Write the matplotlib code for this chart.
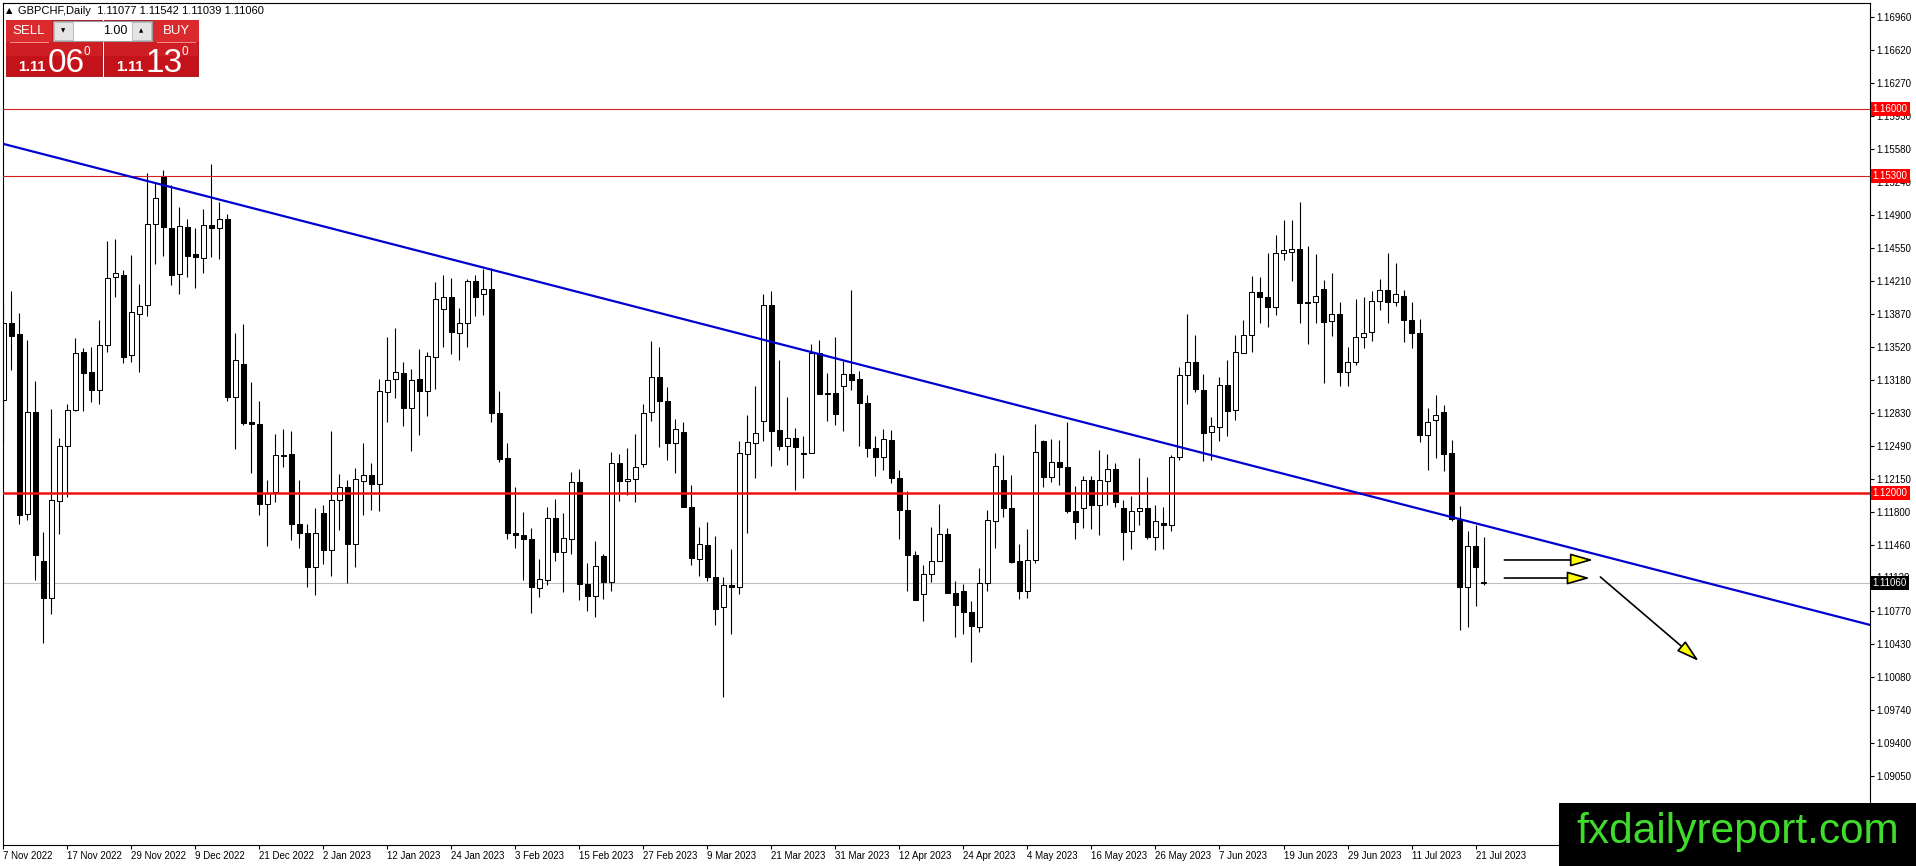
import matplotlib
matplotlib.use('Agg')
import matplotlib.pyplot as plt
from matplotlib.patches import Rectangle

plt.rcParams['font.family'] = ['Liberation Sans', 'DejaVu Sans']

symbol = 'GBPCHF,Daily'
last_ohlc = [1.11077, 1.11542, 1.11039, 1.11060]
sell_quote = ['1.11', '06', '0']
buy_quote = ['1.11', '13', '0']
lot_size = '1.00'

# one label every 8 daily bars, starting at bar 0
date_labels = ['7 Nov 2022', '17 Nov 2022', '29 Nov 2022', '9 Dec 2022', '21 Dec 2022',
               '2 Jan 2023', '12 Jan 2023', '24 Jan 2023', '3 Feb 2023', '15 Feb 2023',
               '27 Feb 2023', '9 Mar 2023', '21 Mar 2023', '31 Mar 2023', '12 Apr 2023',
               '24 Apr 2023', '4 May 2023', '16 May 2023', '26 May 2023', '7 Jun 2023',
               '19 Jun 2023', '29 Jun 2023', '11 Jul 2023', '21 Jul 2023']

opens = [1.1297, 1.1377, 1.1366, 1.1178, 1.1284, 1.1129, 1.1091, 1.1192, 1.1249, 1.1286,
         1.1347, 1.1326, 1.1307, 1.1354, 1.1425, 1.1427, 1.1344, 1.1387, 1.1396, 1.1480,
         1.1530, 1.1476, 1.1428, 1.1477, 1.1449, 1.1445, 1.1479, 1.1476, 1.1485, 1.1300,
         1.1334, 1.1274, 1.1272, 1.1189, 1.1201, 1.1240, 1.1241, 1.1168, 1.1158, 1.1123,
         1.1179, 1.1141, 1.1193, 1.1206, 1.1147, 1.1212, 1.1219, 1.1209, 1.1305, 1.1319,
         1.1325, 1.1289, 1.1319, 1.1306, 1.1342, 1.1392, 1.1404, 1.1367, 1.1377, 1.1421,
         1.1407, 1.1413, 1.1283, 1.1236, 1.1158, 1.1156, 1.1152, 1.1101, 1.1109, 1.1174,
         1.1139, 1.1152, 1.1211, 1.1105, 1.1093, 1.1134, 1.1107, 1.1231, 1.1212, 1.1215,
         1.1230, 1.1284, 1.1321, 1.1296, 1.1252, 1.1264, 1.1185, 1.1131, 1.1146, 1.1112,
         1.1081, 1.1104, 1.1102, 1.1241, 1.1252, 1.1275, 1.1396, 1.1266, 1.1249, 1.1257,
         1.1242, 1.1242, 1.1346, 1.1304, 1.1304, 1.1312, 1.1324, 1.1319, 1.1294, 1.1247,
         1.1238, 1.1255, 1.1216, 1.1182, 1.1135, 1.1095, 1.1116, 1.1129, 1.1157, 1.1096,
         1.1098, 1.1076, 1.1060, 1.1106, 1.1171, 1.1214, 1.1184, 1.1129, 1.1098, 1.1130,
         1.1254, 1.1217, 1.1232, 1.1227, 1.1181, 1.1184, 1.1214, 1.1188, 1.1213, 1.1225,
         1.1184, 1.1160, 1.1181, 1.1184, 1.1154, 1.1169, 1.1167, 1.1237, 1.1323, 1.1336,
         1.1307, 1.1264, 1.1269, 1.1313, 1.1286, 1.1346, 1.1365, 1.1409, 1.1404, 1.1394,
         1.1450, 1.1451, 1.1454, 1.1399, 1.1399, 1.1413, 1.1379, 1.1387, 1.1326, 1.1337,
         1.1363, 1.1368, 1.1400, 1.1412, 1.1399, 1.1405, 1.1380, 1.1367, 1.1260, 1.1276,
         1.1284, 1.1242, 1.1172, 1.1102, 1.1145, 1.11077]

highs = [1.1399, 1.1411, 1.1388, 1.1359, 1.1317, 1.1159, 1.1288, 1.1257, 1.1293, 1.1362,
         1.1351, 1.1352, 1.1380, 1.1463, 1.1465, 1.1432, 1.1448, 1.1418, 1.1533, 1.1523,
         1.1537, 1.1521, 1.1498, 1.1485, 1.1476, 1.1496, 1.1543, 1.1503, 1.1491, 1.1367,
         1.1376, 1.1316, 1.1296, 1.1214, 1.1262, 1.1267, 1.1265, 1.1214, 1.1168, 1.1184,
         1.1188, 1.1265, 1.1220, 1.1214, 1.1226, 1.1252, 1.1231, 1.1319, 1.1363, 1.1372,
         1.1336, 1.1329, 1.1350, 1.1347, 1.1420, 1.1427, 1.1424, 1.1393, 1.1423, 1.1427,
         1.1433, 1.1434, 1.1306, 1.1252, 1.1206, 1.1180, 1.1164, 1.1131, 1.1185, 1.1194,
         1.1179, 1.1222, 1.1225, 1.1127, 1.1150, 1.1136, 1.1243, 1.1241, 1.1247, 1.1261,
         1.1293, 1.1358, 1.1352, 1.1310, 1.1277, 1.1274, 1.1208, 1.1165, 1.1170, 1.1155,
         1.1112, 1.1142, 1.1254, 1.1281, 1.1312, 1.1407, 1.1411, 1.1339, 1.1300, 1.1268,
         1.1259, 1.1355, 1.1359, 1.1325, 1.1363, 1.1338, 1.1412, 1.1327, 1.1302, 1.1259,
         1.1267, 1.1266, 1.1224, 1.1202, 1.1140, 1.1125, 1.1165, 1.1189, 1.1164, 1.1108,
         1.1105, 1.1087, 1.1122, 1.1182, 1.1242, 1.1240, 1.1219, 1.1147, 1.1162, 1.1272,
         1.1255, 1.1256, 1.1255, 1.1274, 1.1207, 1.1218, 1.1218, 1.1245, 1.1241, 1.1231,
         1.1193, 1.1197, 1.1236, 1.1217, 1.1187, 1.1185, 1.1240, 1.1331, 1.1387, 1.1365,
         1.1324, 1.1279, 1.1321, 1.1339, 1.1365, 1.1380, 1.1426, 1.1425, 1.1450, 1.1469,
         1.1484, 1.1484, 1.1503, 1.1457, 1.1449, 1.1422, 1.1429, 1.1399, 1.1352, 1.1402,
         1.1404, 1.1410, 1.1423, 1.1450, 1.1440, 1.1412, 1.1399, 1.1381, 1.1289, 1.1302,
         1.1292, 1.1255, 1.1186, 1.1160, 1.1167, 1.11542]

lows = [1.1252, 1.1328, 1.1168, 1.1172, 1.1109, 1.1044, 1.1074, 1.1157, 1.1196, 1.1285,
        1.1285, 1.1295, 1.1293, 1.1347, 1.1404, 1.1335, 1.1337, 1.1326, 1.1384, 1.1439,
        1.1447, 1.1417, 1.1407, 1.1425, 1.1414, 1.1429, 1.1446, 1.1444, 1.1296, 1.1246,
        1.1271, 1.1221, 1.1177, 1.1145, 1.1191, 1.1227, 1.1151, 1.1143, 1.1102, 1.1094,
        1.1126, 1.1114, 1.1161, 1.1106, 1.1123, 1.1177, 1.1182, 1.1181, 1.1274, 1.1299,
        1.1270, 1.1244, 1.1260, 1.1280, 1.1308, 1.1352, 1.1345, 1.1339, 1.1352, 1.1384,
        1.1385, 1.1274, 1.1232, 1.1152, 1.1143, 1.1109, 1.1075, 1.1092, 1.1104, 1.1129,
        1.1097, 1.1136, 1.1089, 1.1077, 1.1071, 1.1090, 1.1098, 1.1192, 1.1198, 1.1191,
        1.1227, 1.1275, 1.1248, 1.1234, 1.1221, 1.1185, 1.1125, 1.1113, 1.1108, 1.1062,
        1.0987, 1.1053, 1.1095, 1.1158, 1.1216, 1.1254, 1.1228, 1.1245, 1.1229, 1.1203,
        1.1216, 1.1242, 1.1303, 1.1275, 1.1271, 1.1265, 1.1307, 1.1249, 1.1237, 1.1218,
        1.1224, 1.1210, 1.1152, 1.1098, 1.1089, 1.1067, 1.1107, 1.1129, 1.1096, 1.1050,
        1.1053, 1.1024, 1.1055, 1.1098, 1.1143, 1.1175, 1.1127, 1.1090, 1.1091, 1.1127,
        1.1206, 1.1211, 1.1208, 1.1179, 1.1152, 1.1164, 1.1162, 1.1156, 1.1188, 1.1185,
        1.1130, 1.1142, 1.1167, 1.1152, 1.1141, 1.1142, 1.1160, 1.1234, 1.1293, 1.1305,
        1.1233, 1.1234, 1.1254, 1.1259, 1.1276, 1.1346, 1.1347, 1.1377, 1.1373, 1.1385,
        1.1443, 1.1421, 1.1377, 1.1355, 1.1377, 1.1315, 1.1364, 1.1312, 1.1312, 1.1333,
        1.1351, 1.1358, 1.1391, 1.1377, 1.1395, 1.1357, 1.1351, 1.1253, 1.1224, 1.1236,
        1.1223, 1.1171, 1.1057, 1.1060, 1.1082, 1.11039]

closes = [1.1377, 1.1364, 1.1177, 1.1284, 1.1135, 1.1091, 1.1193, 1.1249, 1.1286, 1.1346,
          1.1325, 1.1307, 1.1354, 1.1424, 1.1429, 1.1342, 1.1389, 1.1395, 1.1480, 1.1507,
          1.1477, 1.1427, 1.1478, 1.1447, 1.1446, 1.1479, 1.1476, 1.1485, 1.1300, 1.1339,
          1.1273, 1.1272, 1.1189, 1.1200, 1.1240, 1.1239, 1.1168, 1.1158, 1.1123, 1.1158,
          1.1141, 1.1193, 1.1206, 1.1147, 1.1215, 1.1219, 1.1209, 1.1306, 1.1318, 1.1326,
          1.1289, 1.1318, 1.1306, 1.1343, 1.1402, 1.1404, 1.1368, 1.1377, 1.1421, 1.1404,
          1.1413, 1.1283, 1.1235, 1.1158, 1.1156, 1.1152, 1.1102, 1.1110, 1.1174, 1.1139,
          1.1153, 1.1211, 1.1105, 1.1093, 1.1124, 1.1107, 1.1231, 1.1212, 1.1215, 1.1227,
          1.1283, 1.1321, 1.1296, 1.1252, 1.1267, 1.1185, 1.1132, 1.1147, 1.1112, 1.1079,
          1.1104, 1.1102, 1.1242, 1.1253, 1.1263, 1.1396, 1.1265, 1.1249, 1.1257, 1.1248,
          1.1241, 1.1346, 1.1303, 1.1303, 1.1282, 1.1324, 1.1318, 1.1294, 1.1247, 1.1238,
          1.1256, 1.1216, 1.1182, 1.1135, 1.1089, 1.1116, 1.1129, 1.1157, 1.1096, 1.1083,
          1.1076, 1.1061, 1.1106, 1.1172, 1.1228, 1.1184, 1.1128, 1.1098, 1.1130, 1.1243,
          1.1217, 1.1232, 1.1227, 1.1181, 1.1170, 1.1214, 1.1187, 1.1214, 1.1225, 1.1191,
          1.1159, 1.1181, 1.1184, 1.1154, 1.1171, 1.1167, 1.1237, 1.1323, 1.1336, 1.1308,
          1.1263, 1.1270, 1.1313, 1.1285, 1.1347, 1.1365, 1.1409, 1.1404, 1.1394, 1.1450,
          1.1453, 1.1454, 1.1398, 1.1398, 1.1405, 1.1378, 1.1387, 1.1326, 1.1337, 1.1363,
          1.1367, 1.1400, 1.1412, 1.1399, 1.1407, 1.1380, 1.1367, 1.1260, 1.1274, 1.1281,
          1.1241, 1.1173, 1.1102, 1.1145, 1.1123, 1.11060]

price_ticks = [1.16960, 1.16620, 1.16270, 1.15930, 1.15580, 1.15240, 1.14900, 1.14550,
               1.14210, 1.13870, 1.13520, 1.13180, 1.12830, 1.12490, 1.12150, 1.11800,
               1.11460, 1.11120, 1.10770, 1.10430, 1.10080, 1.09740, 1.09400, 1.09050,
               1.08710]

# horizontal levels drawn by the analyst
thin_levels = [1.16000, 1.15300]
thick_level = 1.12000
bid_price = 1.11060

# trendline anchors (bar index, price)
trend_a = (0, 1.15638)
trend_b = (233, 1.10632)

# arrows (start, end) as (bar index, price)
arrows = [((187.6, 1.11302), (198.7, 1.11302)),
          ((187.6, 1.11114), (198.3, 1.11114)),
          ((199.6, 1.11125), (211.9, 1.10249))]

W, H = 1916, 866
fig = plt.figure(figsize=(W / 100, H / 100), dpi=100, facecolor='white')
ax = fig.add_axes([2.7 / W, (H - 845) / H, (1870 - 2.7) / W, (845 - 3) / H])

x = list(range(len(opens)))
ax.vlines(x, lows, highs, color='black', lw=0.8, zorder=2)
bottoms = [min(o, c) for o, c in zip(opens, closes)]
heights = [max(abs(c - o), 0.00003) for o, c in zip(opens, closes)]
fills = ['white' if c > o else 'black' for o, c in zip(opens, closes)]
ax.bar(x, heights, bottom=bottoms, width=0.55, color=fills, edgecolor='black',
       linewidth=0.75, zorder=2.2)

ax.axhline(bid_price, color='#c0c0c0', lw=0.8, zorder=1)
for lv in thin_levels:
    ax.axhline(lv, color='#d42020', lw=0.8, zorder=3)
ax.axhline(thick_level, color='#ee1111', lw=1.8, zorder=3)
ax.axline(trend_a, trend_b, color='#0000d0', lw=1.6, zorder=3)

for start, end in arrows:
    ax.annotate('', xy=end, xytext=start,
                arrowprops=dict(arrowstyle='-|>,head_length=1.4,head_width=0.4',
                                mutation_scale=10, fc='#ffff00', ec='black', lw=1.2,
                                shrinkA=0, shrinkB=0), zorder=4)

ax.set_xlim(-0.075, 233.3)
ax.set_ylim(1.08332, 1.17106)

ax.set_xticks(range(0, 8 * len(date_labels), 8))
ax.set_xticklabels(date_labels, ha='left')
ax.tick_params(axis='x', direction='out', length=3, width=0.8, pad=1.5, labelsize=7)

ax.yaxis.tick_right()
ax.set_yticks(price_ticks)
ax.set_yticklabels(['%.5f' % p for p in price_ticks])
ax.tick_params(axis='y', direction='out', length=3, width=0.8, pad=1.5, labelsize=7)

for sp in ax.spines.values():
    sp.set_color('black')
    sp.set_linewidth(0.8)

# price tags on the right scale
tags = [(lv, '#ff0000') for lv in thin_levels] + [(thick_level, '#ff0000'), (bid_price, 'black')]
for price, col in tags:
    ax.annotate('%.5f' % price, xy=(1, price), xycoords=ax.get_yaxis_transform(),
                xytext=(2, 0), textcoords='offset points', ha='left', va='center',
                fontsize=7, color='white', zorder=5, annotation_clip=False,
                bbox=dict(boxstyle='square,pad=0.2', fc=col, ec='none'))

# overlay in pixel coordinates for the trading panel and watermark
ov = fig.add_axes([0, 0, 1, 1], zorder=5)
ov.set_xlim(0, W)
ov.set_ylim(H, 0)
ov.axis('off')

ov.text(6, 11, '\u25b2', fontsize=6, va='center', ha='left', family=['DejaVu Sans'])
ov.text(18, 11, '%s  %s' % (symbol, ' '.join('%.5f' % v for v in last_ohlc)),
        fontsize=8, va='center', ha='left')

for bx, bw, lab_x, label, quote in [(6, 96, 6, 'SELL', sell_quote), (104, 94, 153, 'BUY', buy_quote)]:
    ov.add_patch(Rectangle((bx, 20), bw, 56, fc='#c4121a', ec='#a00a10', lw=0.6))
    ov.add_patch(Rectangle((bx, 42), bw, 14, fc='#cf1d24', ec='none'))
    ov.add_patch(Rectangle((lab_x, 20), 46, 22, fc='#da2a2e', ec='none'))
    ov.plot([lab_x + 4, lab_x + 42], [41.5, 41.5], color='#f09090', lw=0.7)
    ov.text(lab_x + 23, 31, label, color='white', fontsize=9.5, ha='center', va='center')
    ov.text(bx + 26, 71, quote[0], color='white', fontsize=10.5, fontweight='bold',
            ha='center', va='baseline')
    ov.text(bx + 42, 72, quote[1], color='white', fontsize=24, ha='left', va='baseline')
    ov.text(bx + 78, 55, quote[2], color='white', fontsize=8.5, ha='left', va='baseline')

ov.add_patch(Rectangle((53, 21), 99, 20, fc='white', ec='#9a9a9a', lw=0.8))
ov.add_patch(Rectangle((54, 22), 19, 18, fc='#e4e4e4', ec='#b4b4b4', lw=0.6))
ov.add_patch(Rectangle((132, 22), 19, 18, fc='#e4e4e4', ec='#b4b4b4', lw=0.6))
ov.text(63.5, 31, '\u25bc', fontsize=4, ha='center', va='center', family=['DejaVu Sans'])
ov.text(141.5, 31, '\u25b2', fontsize=4, ha='center', va='center', family=['DejaVu Sans'])
ov.text(127, 31, lot_size, fontsize=9, ha='right', va='center')

ov.add_patch(Rectangle((1559, 803), W - 1559, H - 803, fc='black', ec='none'))
ov.text(1576, 843, 'fxdailyreport.com', color='#3fdc2c', fontsize=30.5, ha='left',
        va='baseline')

plt.savefig('out.png', dpi=100, facecolor='white')
